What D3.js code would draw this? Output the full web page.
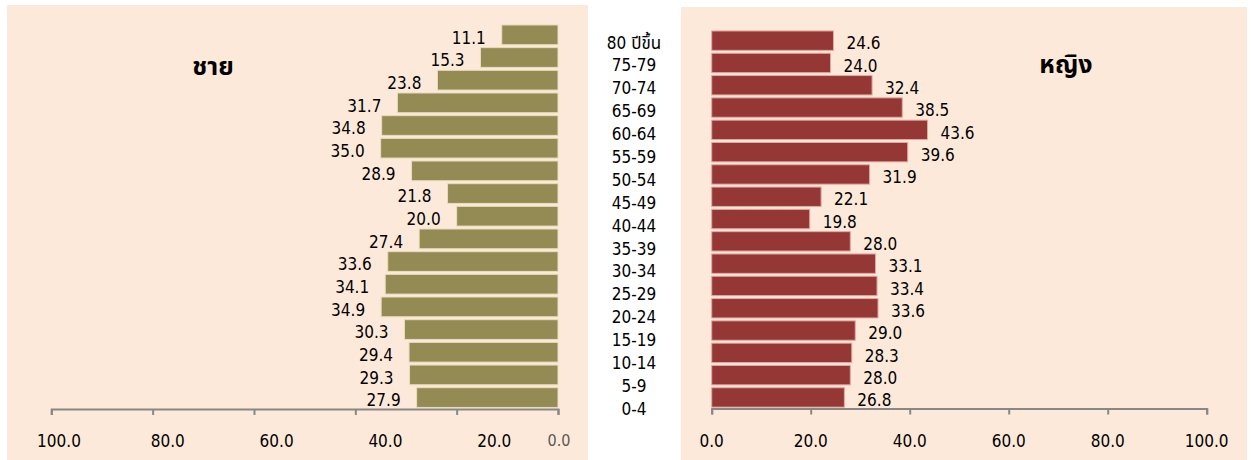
<!DOCTYPE html>
<html>
<head>
<meta charset="utf-8">
<script src="https://cdn.jsdelivr.net/npm/d3@7"></script>
<style>
  html, body { margin: 0; padding: 0; background: #ffffff; }
  svg { display: block; }
  text { font-family: 'DejaVu Sans Condensed', 'DejaVu Sans', 'Noto Sans Thai', 'Noto Sans', sans-serif; font-stretch: condensed; }
</style>
</head>
<body>
<svg id="chart" width="1251" height="460"></svg>
<script>
// ---- data ----
const categories = ["80 ปีขึ้น", "75-79", "70-74", "65-69", "60-64", "55-59", "50-54", "45-49", "40-44",
                    "35-39", "30-34", "25-29", "20-24", "15-19", "10-14", "5-9", "0-4"];
const maleValues = [11.1, 15.3, 23.8, 31.7, 34.8, 35.0, 28.9, 21.8, 20.0, 27.4, 33.6, 34.1, 34.9, 30.3, 29.4, 29.3, 27.9];
const femaleValues = [24.6, 24.0, 32.4, 38.5, 43.6, 39.6, 31.9, 22.1, 19.8, 28.0, 33.1, 33.4, 33.6, 29.0, 28.3, 28.0, 26.8];
const tickValues = [0, 20, 40, 60, 80, 100];
const maleTitle = "ชาย";
const femaleTitle = "หญิง";

const svg = d3.select("#chart");
const fmt = d3.format(".1f");

const BG = "#FDE9D9";
const MALE = "#948A54";
const FEMALE = "#953735";
const AXIS = "#878787";

// panels
svg.append("rect").attr("x", 7).attr("y", 5).attr("width", 581).attr("height", 455).attr("fill", BG);
svg.append("rect").attr("x", 681).attr("y", 7).attr("width", 566).attr("height", 453).attr("fill", BG);

// scales
const xMale = d3.scaleLinear().domain([0, 100]).range([558, 51.3]);
const xFemale = d3.scaleLinear().domain([0, 100]).range([711.7, 1206.7]);
const yMale = d3.scaleBand().domain(categories).range([23.5, 408.9]).paddingInner(0.13).paddingOuter(0.065);
const yFemale = d3.scaleBand().domain(categories).range([29.5, 408.6]).paddingInner(0.13).paddingOuter(0.065);
const yCat = d3.scalePoint().domain(categories).range([48.5, 414.8]);
const maleLabelX = d3.scaleLinear().domain([0, 100]).range([603, 59]);

const male = categories.map((c, i) => ({ c, v: maleValues[i] }));
const female = categories.map((c, i) => ({ c, v: femaleValues[i] }));

// male bars
svg.append("g").selectAll("rect").data(male).join("rect")
  .attr("x", d => xMale(d.v))
  .attr("y", d => yMale(d.c))
  .attr("width", d => xMale(0) - xMale(d.v))
  .attr("height", yMale.bandwidth())
  .attr("fill", MALE)
  .attr("stroke", "#E8DDBE").attr("stroke-width", 1);

svg.append("g").selectAll("text").data(male).join("text")
  .attr("x", d => xMale(d.v) - 16)
  .attr("y", d => yMale(d.c) + yMale.bandwidth() / 2 + 8.7)
  .attr("text-anchor", "end")
  .attr("font-size", 17)
  .attr("fill", "#000")
  .text(d => fmt(d.v));

// female bars
svg.append("g").selectAll("rect").data(female).join("rect")
  .attr("x", xFemale(0))
  .attr("y", d => yFemale(d.c))
  .attr("width", d => xFemale(d.v) - xFemale(0))
  .attr("height", yFemale.bandwidth())
  .attr("fill", FEMALE)
  .attr("stroke", "#E3A9A3").attr("stroke-width", 1);

svg.append("g").selectAll("text").data(female).join("text")
  .attr("x", d => xFemale(d.v) + 13)
  .attr("y", d => yFemale(d.c) + yFemale.bandwidth() / 2 + 8.7)
  .attr("text-anchor", "start")
  .attr("font-size", 17)
  .attr("fill", "#000")
  .text(d => fmt(d.v));

// category labels
svg.append("g").selectAll("text").data(categories).join("text")
  .attr("x", 634)
  .attr("y", d => yCat(d))
  .attr("text-anchor", "middle")
  .attr("font-size", 17)
  .attr("fill", "#000")
  .text(d => d);

// axes
function styleAxis(g) {
  g.select(".domain").attr("stroke", AXIS).attr("stroke-width", 2);
  g.selectAll(".tick line").attr("stroke", AXIS).attr("stroke-width", 2);
  g.selectAll(".tick text").remove();
}
svg.append("g").attr("transform", "translate(0,409)")
  .call(d3.axisBottom(xMale).tickValues(tickValues).tickSize(6).tickSizeOuter(6))
  .call(styleAxis);
svg.append("g").attr("transform", "translate(0,408.5)")
  .call(d3.axisBottom(xFemale).tickValues(tickValues).tickSize(6).tickSizeOuter(6))
  .call(styleAxis);

// male axis labels
svg.append("g").selectAll("text").data(tickValues.filter(v => v > 0)).join("text")
  .attr("x", d => maleLabelX(d))
  .attr("y", 447)
  .attr("text-anchor", "middle")
  .attr("font-size", 17)
  .attr("fill", "#000")
  .text(d => fmt(d));
svg.append("text")
  .attr("x", xMale(0) + 1)
  .attr("y", 446)
  .attr("text-anchor", "middle")
  .attr("font-size", 16)
  .attr("fill", "#595959")
  .text(fmt(0));

// female axis labels
svg.append("g").selectAll("text").data(tickValues).join("text")
  .attr("x", d => xFemale(d))
  .attr("y", 447)
  .attr("text-anchor", "middle")
  .attr("font-size", 17)
  .attr("fill", "#000")
  .text(d => fmt(d));

// titles
svg.append("text").attr("x", 213).attr("y", 75)
  .attr("text-anchor", "middle").attr("font-size", 25).attr("font-weight", "bold")
  .text(maleTitle);
svg.append("text").attr("x", 1066).attr("y", 73)
  .attr("text-anchor", "middle").attr("font-size", 25).attr("font-weight", "bold")
  .text(femaleTitle);
</script>
</body>
</html>
